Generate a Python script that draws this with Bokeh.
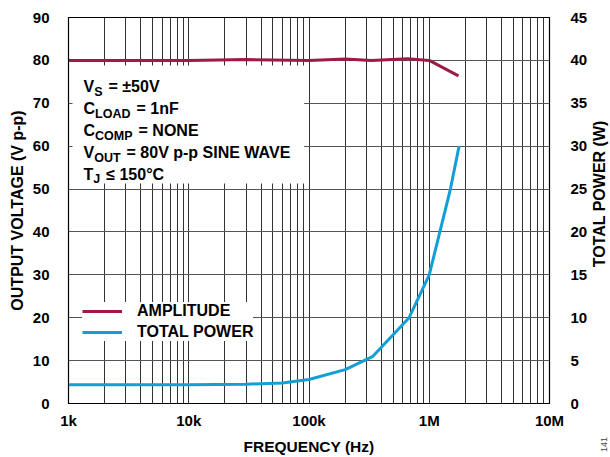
import math
from bokeh.plotting import figure
from bokeh.layouts import column
from bokeh.models import (Range1d, LinearAxis, FixedTicker, Label, Legend, LegendItem, Div)
from bokeh.embed import file_html
from bokeh.resources import INLINE

# ---- data ----
freq_amp = [1e3, 1e4, 3e4, 1e5, 2e5, 3.3e5, 6.6e5, 1e6, 1.75e6]
amplitude = [80.0, 80.0, 80.2, 80.0, 80.3, 80.0, 80.4, 80.0, 76.4]
freq_pow = [1e3, 1e4, 3e4, 6e4, 1e5, 2e5, 3.4e5, 6.8e5, 1e6, 1.5e6, 1.77e6]
total_power = [2.2, 2.2, 2.25, 2.4, 2.8, 3.95, 5.5, 10.0, 15.0, 25.0, 30.0]

x_ticks = [1e3, 1e4, 1e5, 1e6, 1e7]
x_tick_labels = ["1k", "10k", "100k", "1M", "10M"]
y_left_ticks = list(range(0, 91, 10))
y_right_ticks = list(range(0, 46, 5))

ann_main = ["V", "C", "C", "V", "T"]
ann_sub = ["S", "LOAD", "COMP", "OUT", "J"]
ann_rest = ["= \u00b150V", "= 1nF", "= NONE", "= 80V p-p SINE WAVE", "\u2264 150\u00b0C"]

FONT = "Liberation Sans"
AMP_COLOR = "#9E1B48"
POW_COLOR = "#139FD6"

p = figure(width=610, height=457, x_axis_type="log",
           x_range=Range1d(1e3, 1e7), y_range=Range1d(0, 90),
           output_backend="svg", toolbar_location=None,
           min_border_left=68, min_border_right=61,
           min_border_top=17, min_border_bottom=54)
p.extra_y_ranges = {"power": Range1d(0, 45)}

p.outline_line_color = "black"
p.outline_line_width = 1.2
p.background_fill_color = "white"
p.border_fill_color = "white"

minor = [m * d for d in [1e3, 1e4, 1e5, 1e6] for m in range(2, 10)]
p.xaxis.ticker = FixedTicker(ticks=x_ticks, minor_ticks=minor)
p.xaxis.major_label_overrides = {t: l for t, l in zip(x_ticks, x_tick_labels)}
p.yaxis.ticker = FixedTicker(ticks=y_left_ticks)

right = LinearAxis(y_range_name="power", ticker=FixedTicker(ticks=y_right_ticks))
p.add_layout(right, "right")

for ax in [p.xaxis[0], p.yaxis[0], right]:
    ax.major_tick_line_color = None
    ax.minor_tick_line_color = None
    ax.axis_line_color = "black"
    ax.major_label_text_font = FONT
    ax.major_label_text_font_style = "bold"
    ax.major_label_text_font_size = "15px"
    ax.major_label_text_color = "black"
    ax.axis_label_text_font = FONT
    ax.axis_label_text_font_style = "bold"
    ax.axis_label_text_font_size = "16px"
    ax.axis_label_text_color = "black"

p.xaxis.axis_label = "FREQUENCY (Hz)"
p.xaxis.axis_label_text_font_size = "15.5px"
p.xaxis.major_label_standoff = 2
p.xaxis.axis_label_standoff = 6
p.yaxis[0].axis_label = "OUTPUT VOLTAGE (V p-p)"
p.yaxis[0].major_label_standoff = 13
p.yaxis[0].axis_label_standoff = 4
right.major_label_standoff = 15

p.xgrid.grid_line_color = "#333333"
p.xgrid.minor_grid_line_color = "#333333"
p.xgrid.grid_line_width = 1
p.ygrid.grid_line_color = "#555555"
p.ygrid.grid_line_width = 1.2

# white annotation box
p.quad(left=[1.08e3], right=[9.1e4], bottom=[51.3], top=[78.8],
       fill_color="white", line_color=None)

r_amp = p.line(freq_amp, amplitude, line_color=AMP_COLOR, line_width=3)
r_pow = p.line(freq_pow, total_power, line_color=POW_COLOR, line_width=3,
               y_range_name="power")

legend = Legend(items=[LegendItem(label="AMPLITUDE", renderers=[r_amp]),
                       LegendItem(label="TOTAL POWER", renderers=[r_pow])],
                location=(14, 62), orientation="vertical")
legend.label_text_font = FONT
legend.label_text_font_style = "bold"
legend.label_text_font_size = "16px"
legend.label_text_color = "black"
legend.glyph_width = 40
legend.glyph_height = 18
legend.label_height = 18
legend.label_standoff = 15
legend.spacing = 3
legend.padding = 7
legend.margin = 0
legend.border_line_color = None
legend.background_fill_color = "white"
legend.background_fill_alpha = 1.0
p.add_layout(legend, "center")

# annotation text (manual subscripts)
baselines = [73.8, 68.7, 63.6, 58.5, 53.5]
MAIN_PX, SUB_PX = 16, 12.5
main_w = {"V": 0.667, "C": 0.722, "T": 0.611}
sub_w = {"S": 0.667, "L": 0.611, "O": 0.778, "A": 0.722, "D": 0.722,
         "C": 0.722, "M": 0.833, "P": 0.667, "U": 0.722, "T": 0.611, "J": 0.556}
x0 = 15  # px from left of frame
for m, s, r, yb in zip(ann_main, ann_sub, ann_rest, baselines):
    mw = main_w[m] * MAIN_PX
    sw = sum(sub_w[c] for c in s) * SUB_PX
    common = dict(x=1e3, y=yb, text_font=FONT, text_font_style="bold",
                  text_color="black", text_baseline="alphabetic")
    p.add_layout(Label(text=m, x_offset=x0, text_font_size=f"{MAIN_PX}px", **common))
    p.add_layout(Label(text=s, x_offset=x0 + mw, y_offset=-5,
                       text_font_size=f"{SUB_PX}px", **common))
    p.add_layout(Label(text=r, x_offset=x0 + mw + sw + 6,
                       text_font_size=f"{MAIN_PX}px", **common))

right_title = Div(text="TOTAL POWER (W)", width=170, height=20,
                  styles={"position": "absolute", "left": "510px", "top": "179px",
                          "transform": "rotate(-90deg)", "font-size": "16px",
                          "font-weight": "bold", "font-family": "Liberation Sans",
                          "color": "black", "line-height": "20px",
                          "text-align": "center", "white-space": "nowrap"})

tag = Div(text="141", width=16, height=10,
          styles={"position": "absolute", "left": "591px", "top": "434px",
                  "transform": "rotate(-90deg)", "font-size": "9px",
                  "font-family": "Liberation Sans", "color": "#444444",
                  "line-height": "10px"})

layout = column(p, right_title, tag, spacing=0)
open("out.html", "w").write(file_html(layout, INLINE))
